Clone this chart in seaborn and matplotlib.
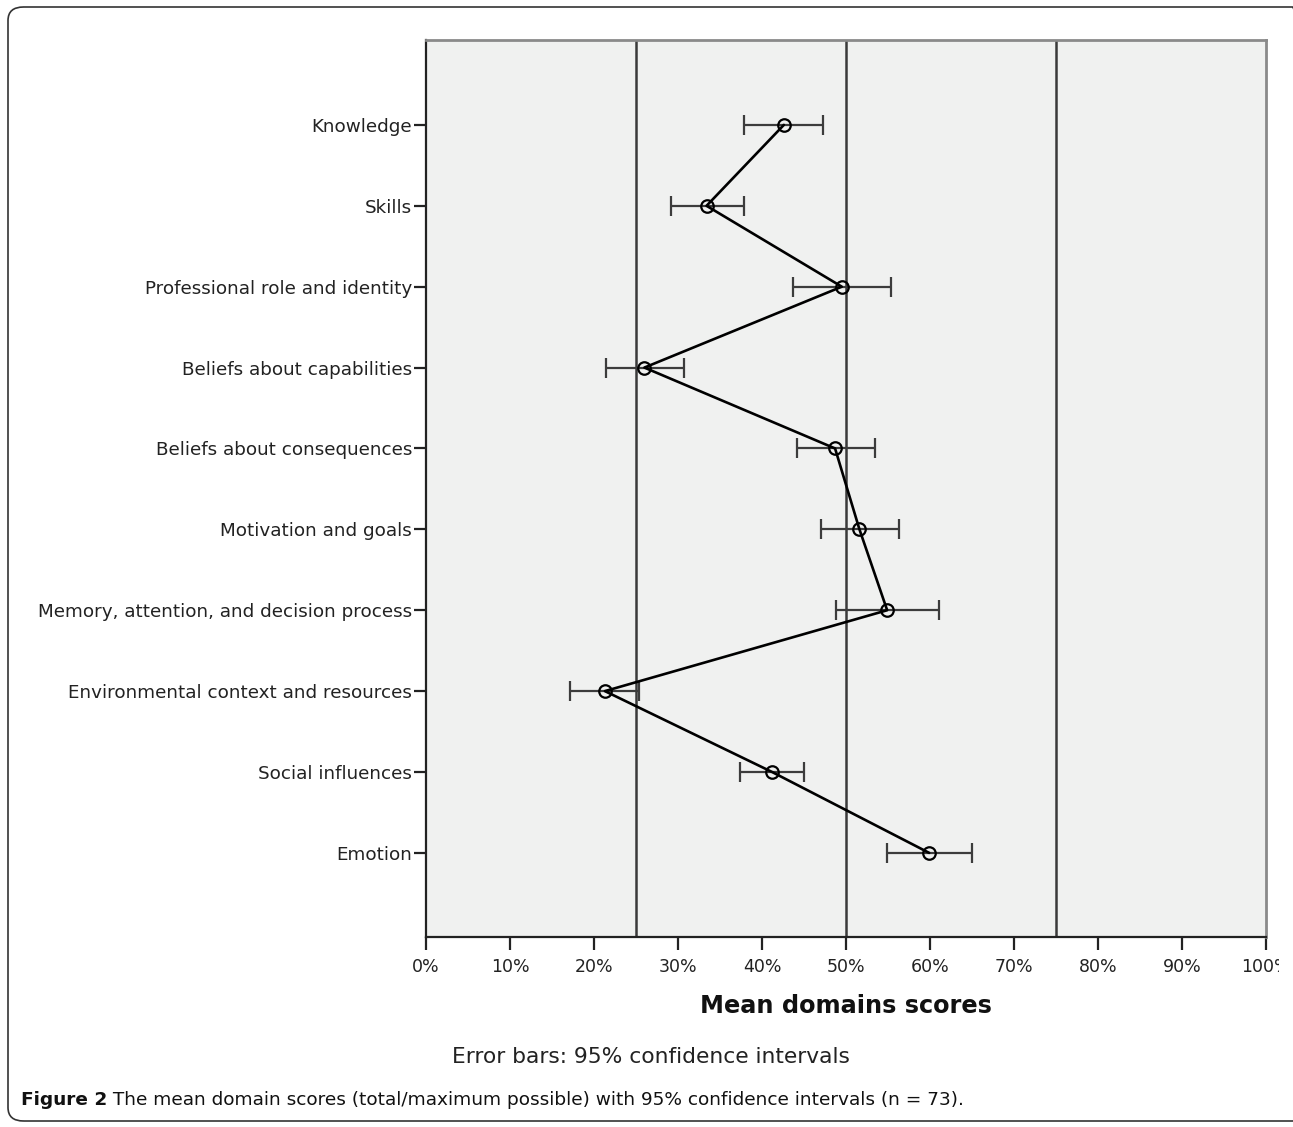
import matplotlib
matplotlib.use("Agg")
import matplotlib.pyplot as plt
from matplotlib.patches import FancyBboxPatch
from matplotlib.text import Annotation
from matplotlib.ticker import PercentFormatter
from matplotlib.transforms import Bbox
import seaborn as sns

# Domain scores (percent of maximum possible)
domains = [
    "Knowledge",
    "Skills",
    "Professional role and identity",
    "Beliefs about capabilities",
    "Beliefs about consequences",
    "Motivation and goals",
    "Memory, attention, and decision process",
    "Environmental context and resources",
    "Social influences",
    "Emotion",
]
mean_score = [42.6, 33.4, 49.5, 26.0, 48.7, 51.6, 54.9, 21.3, 41.2, 59.9]
ci_low = [37.8, 29.2, 43.7, 21.4, 44.2, 47.0, 48.8, 17.2, 37.4, 54.9]
ci_high = [47.3, 37.8, 55.3, 30.7, 53.4, 56.3, 61.1, 25.4, 45.0, 65.0]
ref_lines = [25, 50, 75]

sns.set_style("white")
plt.rcParams['font.family'] = ['DejaVu Sans']

fig = plt.figure(figsize=(12.93, 11.27), dpi=100)
ax = fig.add_axes([426 / 1293, 1 - 937 / 1127, 840 / 1293, 897 / 1127])
ax.set_facecolor("#f0f1f0")

for r in ref_lines:
    ax.axvline(r, color="#3a3a3a", lw=1.8, zorder=1)

# confidence interval bars
err_lo = [m - lo for m, lo in zip(mean_score, ci_low)]
err_hi = [hi - m for m, hi in zip(mean_score, ci_high)]
ax.errorbar(mean_score, range(len(domains)), xerr=[err_lo, err_hi],
            fmt="none", ecolor="#3c3c3c", elinewidth=1.6, capsize=7,
            capthick=1.6, zorder=2)

sns.pointplot(x=mean_score, y=domains, orient="h", color="black",
              errorbar=None, markers="o", linewidth=1.9, markersize=9,
              markerfacecolor="none", markeredgewidth=1.6, ax=ax, zorder=3)

ax.set_xlim(0, 100)
ax.set_ylim(10.04, -1.05)
ax.set_xticks(range(0, 101, 10))
ax.xaxis.set_major_formatter(PercentFormatter(decimals=0))
ax.tick_params(axis="both", direction="out", length=9, width=1.6,
               color="#222222", labelcolor="#222222", pad=1,
               bottom=True, left=True)
ax.tick_params(axis="y", labelsize=13.2)
ax.tick_params(axis="x", labelsize=12.5, pad=6)
ax.set_xlabel("Mean domains scores", fontsize=17.3, fontweight="bold",
              color="#111111", labelpad=13)
ax.set_ylabel("")

for side in ["left", "bottom"]:
    ax.spines[side].set_color("#222222")
    ax.spines[side].set_linewidth(1.6)
for side in ["top", "right"]:
    ax.spines[side].set_color("#8a8a8a")
    ax.spines[side].set_linewidth(2)

# the right-most label is cut in the original
fig.canvas.draw()
last = ax.get_xticklabels()[-1]
last.set_clip_box(Bbox([[0, 0], [1279, 1127]]))
last.set_clip_on(True)

fig.text(651 / 1293, 1 - 1057 / 1127, "Error bars: 95% confidence intervals",
         ha="center", va="center", fontsize=15.7, color="#222222")

t1 = fig.text(21 / 1293, 1 - 1100 / 1127, "Figure 2", ha="left", va="center",
              fontsize=13.3, fontweight="bold", color="#111111")
cap = Annotation(" The mean domain scores (total/maximum possible) with 95% "
                 "confidence intervals (n = 73).",
                 xy=(1, 0.5), xycoords=t1, va="center", ha="left",
                 fontsize=13.3, color="#111111")
fig.add_artist(cap)

border = FancyBboxPatch((8 / 1293, 1 - 1121 / 1127), 1300 / 1293, 1114 / 1127,
                        boxstyle="round,pad=0,rounding_size=0.012",
                        transform=fig.transFigure, fill=False,
                        edgecolor="#333333", lw=1.2)
fig.add_artist(border)

fig.savefig("out.png", dpi=100)
